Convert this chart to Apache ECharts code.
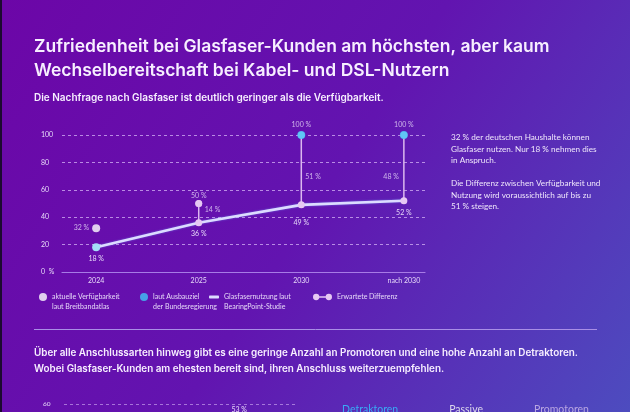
<!DOCTYPE html>
<html><head><meta charset="utf-8">
<script src="https://cdn.jsdelivr.net/npm/echarts@6/dist/echarts.min.js"></script>
<style>html,body{margin:0;padding:0;background:#5f14ad}#c{width:630px;height:412px}</style>
</head><body><div id="c"></div>
<script>
// ---- data ----
const categories = ['2024', '2025', '2030', 'nach 2030'];
const currentAvailability = [32, null, null, null];     // aktuelle Verfügbarkeit laut Breitbandatlas
const targetAvailability = [null, null, 100, 100];      // laut Ausbauziel der Bundesregierung
const fibreUsage = [18, 36, 49, 52];                     // Glasfasernutzung laut BearingPoint-Studie
const expectedUpper = [null, 50, 100, 100];             // oberes Ende der erwarteten Differenz
const yTickLabels = ['0  %', '20', '40', '60', '80', '100'];
const npsGroups = ['Glasfaser', 'Kabel', 'DSL'];
const detractors = [null, null, 53];
const passives = [null, null, null];
const promoters = [null, null, null];

const titleLines = ['Zufriedenheit bei Glasfaser-Kunden am höchsten, aber kaum', 'Wechselbereitschaft bei Kabel- und DSL-Nutzern'];
const subtitle = 'Die Nachfrage nach Glasfaser ist deutlich geringer als die Verfügbarkeit.';
const sideNote = ['32 % der deutschen Haushalte können', 'Glasfaser nutzen. Nur 18 % nehmen dies', 'in Anspruch.', '', 'Die Differenz zwischen Verfügbarkeit und', 'Nutzung wird voraussichtlich auf bis zu', '51 % steigen.'];
const bottomText = ['Über alle Anschlussarten hinweg gibt es eine geringe Anzahl an Promotoren und eine hohe Anzahl an Detraktoren.', 'Wobei Glasfaser-Kunden am ehesten bereit sind, ihren Anschluss weiterzuempfehlen.'];

const nameAvail = 'aktuelle Verfügbarkeit\nlaut Breitbandatlas';
const nameTarget = 'laut Ausbauziel\nder Bundesregierung';
const nameUsage = 'Glasfasernutzung laut\nBearingPoint-Studie';
const nameDiff = 'Erwartete Differenz';

// ---- styles ----
const LBL = '#e6d8f8';
const FONT = 'Lato';
const TFONT = 'Inter';
const lblStyle = { color: LBL, fontSize: 7, fontFamily: FONT };
const usageLabelDist = [4, 8, 14, 8];
const diffLabelOffset = [null, -3, 7, 9];
const diffLabelDist = [null, 6, 4, 5];

const chart = echarts.init(document.getElementById('c'), null, { renderer: 'canvas' });

const pairs = (arr) => arr.map((v, i) => v == null ? null : [i, v]).filter(Boolean);

const diffSeries = [];
categories.forEach((c, i) => {
  if (expectedUpper[i] == null) return;
  diffSeries.push({
    type: 'line', name: nameDiff, z: 4,
    data: [[i, fibreUsage[i]], [i, expectedUpper[i]]],
    symbol: 'circle', symbolSize: 7, showSymbol: true,
    itemStyle: { color: '#e6c8f3' },
    lineStyle: { color: '#dcb8ef', width: 1.5 },
    label: { show: false }, emphasis: { disabled: true }, silent: true
  });
});

const diffLabelData = [];
categories.forEach((c, i) => {
  if (expectedUpper[i] == null) return;
  const d = expectedUpper[i] - fibreUsage[i];
  diffLabelData.push({
    value: [i, (expectedUpper[i] + fibreUsage[i]) / 2, d],
    label: { position: i === categories.length - 1 ? 'left' : 'right', distance: diffLabelDist[i], offset: [0, diffLabelOffset[i]] }
  });
});

const legendText = Object.assign({ lineHeight: 10 }, lblStyle);
const legendFmt = (n) => '\n' + n;

const option = {
  animation: false,
  backgroundColor: new echarts.graphic.LinearGradient(0, 0, 1, 1, [
    { offset: 0, color: '#6c06a7' },
    { offset: 0.5, color: '#6214b0' },
    { offset: 1, color: '#4d4cbf' }
  ]),
  title: [
    { text: titleLines.join('\n'), left: 34, top: 35, padding: 0,
      textStyle: { color: '#f7efff', fontSize: 17.5, fontWeight: 600, fontFamily: TFONT, lineHeight: 24 } },
    { text: subtitle, left: 34, top: 92, padding: 0,
      textStyle: { color: '#f7efff', fontSize: 10, fontWeight: 600, fontFamily: TFONT, lineHeight: 12 } },
    { text: sideNote.join('\n'), left: 451, top: 132, padding: 0,
      textStyle: { color: '#efe6fb', fontSize: 8.2, fontWeight: 'normal', fontFamily: FONT, lineHeight: 11.5 } },
    { text: bottomText.join('\n'), left: 34, top: 345, padding: 0,
      textStyle: { color: '#f7efff', fontSize: 9.9, fontWeight: 600, fontFamily: TFONT, lineHeight: 16 } }
  ],
  legend: [
    { data: [{ name: nameAvail, icon: 'circle' }], left: 39, top: 282, padding: 0, itemWidth: 8, itemHeight: 8,
      formatter: legendFmt, textStyle: legendText, selectedMode: false },
    { data: [{ name: nameTarget, icon: 'circle' }], left: 140, top: 282, padding: 0, itemWidth: 8, itemHeight: 8,
      formatter: legendFmt, textStyle: legendText, selectedMode: false },
    { data: [{ name: nameUsage, icon: 'roundRect', itemStyle: { color: '#dcdcff' } }], left: 209, top: 282, padding: 0, itemWidth: 10, itemHeight: 3,
      formatter: legendFmt, textStyle: legendText, selectedMode: false },
    { data: [{ name: nameDiff, icon: 'path://M0,3A3,3 0 1,1 6,3A3,3 0 1,1 0,3ZM5,2.4L13,2.4L13,3.6L5,3.6ZM12,3A3,3 0 1,1 18,3A3,3 0 1,1 12,3Z' }],
      left: 313, top: 292, padding: 0, itemWidth: 19, itemHeight: 7,
      textStyle: legendText, selectedMode: false },
    { data: [
        { name: 'Detraktoren', textStyle: { color: '#3aa9f5' } },
        { name: 'Passive', textStyle: { color: '#dcd8ec' } },
        { name: 'Promotoren', textStyle: { color: '#b9a6e2' } }
      ], left: 337, top: 404, padding: 0, itemWidth: 0, itemHeight: 0, itemGap: 46,
      textStyle: { fontSize: 10.5, fontFamily: FONT }, selectedMode: false }
  ],
  grid: [
    { left: 62, right: 205, top: 135, bottom: 140, outerBoundsMode: 'none' },
    { left: 64, right: 332, top: 404, height: 124, outerBoundsMode: 'none' }
  ],
  xAxis: [
    { type: 'value', gridIndex: 0, min: -0.333, max: 3.206,
      splitLine: { show: false }, axisTick: { show: false },
      axisLine: { show: true, lineStyle: { color: '#a77be6', width: 1.2 } },
      axisLabel: { customValues: [0, 1, 2, 3], formatter: (v) => categories[Math.round(v)], margin: 5, ...lblStyle } },
    { type: 'category', gridIndex: 1, data: npsGroups, axisLine: { show: false }, axisTick: { show: false }, axisLabel: { show: false } }
  ],
  yAxis: [
    { type: 'value', gridIndex: 0, min: 0, max: 100, interval: 20,
      axisLine: { show: false }, axisTick: { show: false },
      splitLine: { show: true, lineStyle: { color: 'rgba(214,180,245,0.75)', type: [3, 3], width: 1 } },
      axisLabel: { formatter: (v) => yTickLabels[v / 20], align: 'left', margin: 21, ...lblStyle } },
    { type: 'value', gridIndex: 1, min: 0, max: 60, interval: 20,
      axisLine: { show: false }, axisTick: { show: false },
      splitLine: { show: true, lineStyle: { color: 'rgba(214,180,245,0.6)', type: [3, 3], width: 1 } },
      axisLabel: { align: 'left', margin: 21, color: LBL, fontSize: 6.5, fontFamily: FONT } }
  ],
  series: [
    { type: 'line', name: nameUsage, z: 3,
      data: fibreUsage.map((v, i) => ({ value: [i, v], symbolSize: i === 0 ? 8 : 0,
        itemStyle: { color: i === 0 ? '#a4ddf7' : '#dcdcff' }, label: { distance: usageLabelDist[i] } })),
      symbol: 'circle', showSymbol: true, lineStyle: { color: '#dcdcff', width: 2.6, shadowColor: 'rgba(120,170,255,0.6)', shadowBlur: 2 },
      itemStyle: { color: '#dcdcff' },
      label: { show: true, position: 'bottom', formatter: (p) => p.value[1] + ' %', ...lblStyle },
      emphasis: { disabled: true }, silent: true },
    ...diffSeries,
    { type: 'scatter', name: '_diffLabels', z: 5, data: diffLabelData, symbolSize: 0,
      label: { show: true, formatter: (p) => p.value[2] + ' %', ...lblStyle }, silent: true },
    { type: 'scatter', name: nameAvail, z: 6, data: pairs(currentAvailability), symbolSize: 8,
      itemStyle: { color: '#ffffff' },
      label: { show: true, position: 'left', distance: 3, formatter: (p) => p.value[1] + ' %', ...lblStyle }, silent: true },
    { type: 'scatter', name: nameTarget, z: 6, data: pairs(targetAvailability), symbolSize: 8,
      itemStyle: { color: '#3ec6f5' },
      label: { show: true, position: 'top', distance: 2.5, formatter: (p) => p.value[1] + ' %', ...lblStyle }, silent: true },
    { type: 'scatter', name: '_upperLabel', z: 6,
      data: expectedUpper.map((v, i) => (v == null || targetAvailability[i] != null) ? null : [i, v]).filter(Boolean),
      symbolSize: 7, itemStyle: { color: '#e6c8f3' },
      label: { show: true, position: 'top', distance: 1, formatter: (p) => p.value[1] + ' %', ...lblStyle }, silent: true },
    { type: 'bar', name: 'Detraktoren', xAxisIndex: 1, yAxisIndex: 1, data: detractors, barWidth: 18,
      itemStyle: { color: '#3aa9f5' }, label: { show: true, position: 'top', distance: 5, formatter: (p) => p.value + ' %', ...lblStyle } },
    { type: 'bar', name: 'Passive', xAxisIndex: 1, yAxisIndex: 1, data: passives, barWidth: 18, itemStyle: { color: '#dcd8ec' } },
    { type: 'bar', name: 'Promotoren', xAxisIndex: 1, yAxisIndex: 1, data: promoters, barWidth: 18, itemStyle: { color: '#b9a6e2' } }
  ],
  graphic: [
    { type: 'rect', left: 0, top: 0, shape: { width: 2, height: 412 }, style: { fill: '#1c0a30' }, silent: true },
    { type: 'line', shape: { x1: 34, y1: 329.5, x2: 597, y2: 329.5 }, style: { stroke: '#a98fe6', lineWidth: 1 }, silent: true }
  ]
};
chart.setOption(option);
</script></body></html>
